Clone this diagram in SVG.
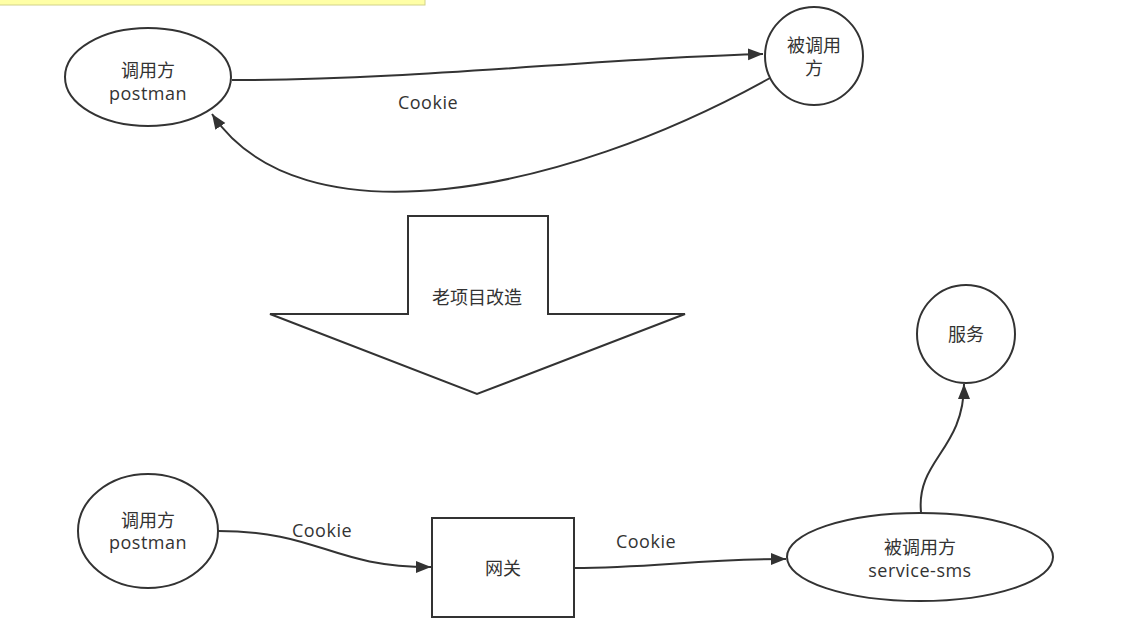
<svg xmlns="http://www.w3.org/2000/svg" width="1133" height="630" viewBox="0 0 1133 630">
<style>
.shape{fill:#fff;stroke:#333;stroke-width:2}
.edge{fill:none;stroke:#333;stroke-width:2}
.t{font-family:"Open Sans","Noto Sans CJK SC",sans-serif;font-size:18px;fill:#333;text-anchor:middle;dominant-baseline:central}
.l{letter-spacing:0.5px}
</style>
<defs>
<marker id="arr" markerUnits="userSpaceOnUse" markerWidth="18" markerHeight="14" refX="15" refY="6" orient="auto">
<path d="M0,0 L15,6 L0,12 Z" fill="#333"/>
</marker>
</defs>
<rect x="-2" y="-2" width="427" height="7" fill="#ffffa6" stroke="#d2d28a" stroke-width="1"/>
<g id="edges">
<path class="edge" d="M232,80 C 420,80 600,58 763,54" marker-end="url(#arr)"/>
<path class="edge" d="M770,78 C 560,195 300,245 212,114" marker-end="url(#arr)"/>
<path class="edge" d="M218,531 C 320,531 330,567 431,567" marker-end="url(#arr)"/>
<path class="edge" d="M574,568 C 650,568 700,559 786,559" marker-end="url(#arr)"/>
<path class="edge" d="M921,512 C 916,460 964,450 964,384" marker-end="url(#arr)"/>
<text class="t l" x="428" y="102">Cookie</text>
<text class="t l" x="322" y="530">Cookie</text>
<text class="t l" x="646" y="541">Cookie</text>
</g>
<g id="caller-top">
<ellipse class="shape" cx="148" cy="77" rx="83" ry="49"/>
<text class="t" x="148" y="70">调用方</text>
<text class="t l" x="148" y="93">postman</text>
</g>
<g id="callee-top">
<circle class="shape" cx="814" cy="56" r="49"/>
<text class="t" x="814" y="45">被调用</text>
<text class="t" x="814" y="68">方</text>
</g>
<g id="big-arrow">
<path class="shape" d="M408,216 L548,216 L548,314 L685,314 L477,394 L270,314 L408,314 Z"/>
<text class="t" x="477" y="297">老项目改造</text>
</g>
<g id="caller-bottom">
<ellipse class="shape" cx="148" cy="531" rx="70" ry="57"/>
<text class="t" x="148" y="520">调用方</text>
<text class="t l" x="148" y="542">postman</text>
</g>
<g id="gateway">
<rect class="shape" x="432" y="518" width="142" height="99"/>
<text class="t" x="503" y="568">网关</text>
</g>
<g id="service-sms">
<ellipse class="shape" cx="920" cy="557" rx="133" ry="44"/>
<text class="t" x="920" y="547">被调用方</text>
<text class="t l" x="920" y="570">service-sms</text>
</g>
<g id="service">
<circle class="shape" cx="966" cy="334" r="49"/>
<text class="t" x="966" y="334">服务</text>
</g>
</svg>
